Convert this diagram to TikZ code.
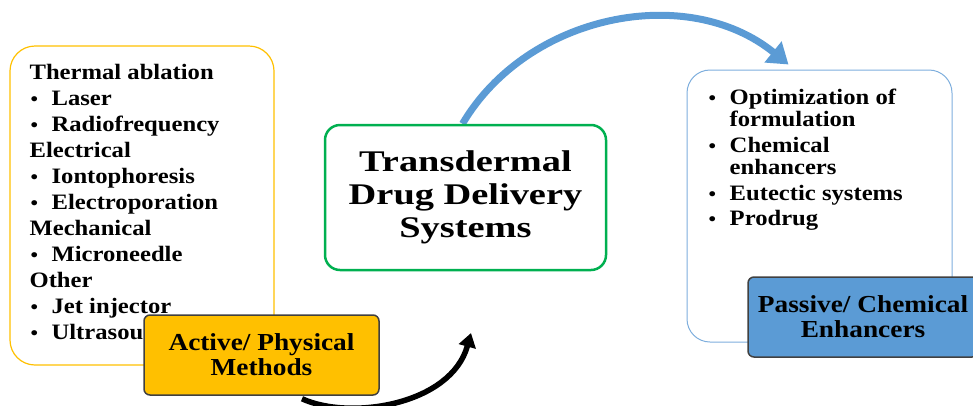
\documentclass[tikz,border=0pt]{standalone}
\usepackage{fontspec}
\setmainfont[FakeStretch=1.12]{Liberation Serif}
\newfontfamily\titlefont[FakeStretch=1.28]{Liberation Serif}
\usepackage{tikz}
\usetikzlibrary{calc, positioning, arrows.meta, backgrounds}

\definecolor{gold}{HTML}{FFC000}
\definecolor{steel}{HTML}{5B9BD5}
\definecolor{leaf}{HTML}{00B050}
\definecolor{frameblue}{HTML}{7EAEDD}
\definecolor{edgegray}{HTML}{404040}

\newcommand{\itm}[1]{\makebox[22pt][l]{\hspace{1pt}\raisebox{0.5pt}{\fontsize{19}{19}\selectfont\textbullet}}#1}

\begin{document}
\begin{tikzpicture} [x = 1pt, y = -1pt, >= {Triangle[length = 20pt, width = 26pt]},
  listframe/.style = {draw, rounded corners = 25pt, line width = 1.2pt},
  listtext/.style = {inner sep = 0pt, align = left, font = \bfseries\fontsize{22}{26}\selectfont},
  tagbox/.style = {draw = edgegray, line width = 1.5pt, rounded corners = 6pt, align = center,
    minimum width = 235pt, minimum height = 80pt, font = \bfseries\fontsize{24.4}{25}\selectfont},
  flowarrow/.style = {->, line width = 7pt, steel}]

\path [use as bounding box, clip] (0, 0) rectangle (973, 405);

\node [listframe, draw = gold, minimum width = 264pt, minimum height = 319pt] (physframe) at (142, 205.5) {};
\node [listtext, below right = 19pt and 20pt of physframe.north west] (physlist) {Thermal ablation\\
  \itm{Laser}\\
  \itm{Radiofrequency}\\
  Electrical\\
  \itm{Iontophoresis}\\
  \itm{Electroporation}\\
  Mechanical\\
  \itm{Microneedle}\\
  Other\\
  \itm{Jet injector}\\
  \itm{Ultrasound}};
\node [tagbox, fill = gold] (physical) at (261.5, 355) {Active/ Physical\\Methods};

\node [draw = leaf, fill = white, line width = 2.5pt, rounded corners = 15pt, minimum width = 281pt, minimum height = 145pt,
  align = center, font = \titlefont\bfseries\fontsize{30}{33}\selectfont] (tdds) at (465.5, 197.5) {Transdermal\\Drug Delivery\\Systems};

\node [listframe, draw = frameblue, rounded corners = 23pt, line width = 1pt, minimum width = 265pt, minimum height = 272pt] (chemframe) at (819.5, 206) {};
\node [listtext, font = \bfseries\fontsize{22}{22}\selectfont, below right = 19.7pt and 21pt of chemframe.north west] (chemlist) {\itm{Optimization of}\\
  \hspace*{22pt}formulation\\[4pt]
  \itm{Chemical}\\
  \hspace*{22pt}enhancers\\[4pt]
  \itm{Eutectic systems}\\[3pt]
  \itm{Prodrug}};
\node [tagbox, fill = steel, minimum width = 230pt] (chemical) at (863, 317) {Passive/ Chemical\\Enhancers};

\coordinate (upturn) at (471, 333);

\begin{scope}[on background layer]
\draw [flowarrow] ([xshift = -3pt]tdds.north) .. controls +(65, -110) and +(-101, -82) .. ([xshift = -31pt, yshift = 5pt]chemframe.north);
\draw [flowarrow, black, line width = 5.5pt, -{Triangle[length = 14pt, width = 17pt]}] ([xshift = 40.5pt, yshift = -3pt]physical.south) .. controls +(48, 22) and +(-20, 72) .. (upturn);
\end{scope}

\end{tikzpicture}
\end{document}
